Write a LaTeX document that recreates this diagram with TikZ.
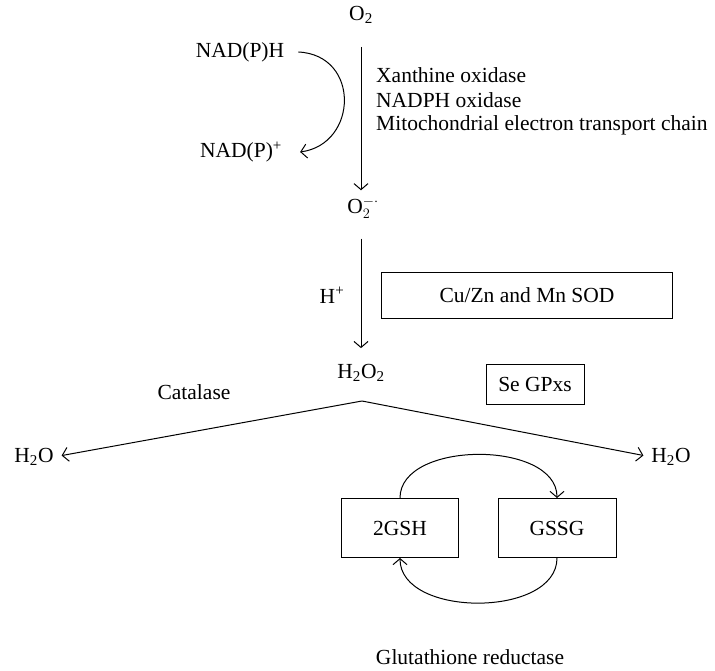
\documentclass[tikz,border=0pt]{standalone}
\usepackage{fontspec}
\setmainfont{Liberation Serif}
\usetikzlibrary{arrows.meta}

\begin{document}
\begin{tikzpicture}[x=1pt,y=-1pt,
    every node/.style={font=\fontsize{21.5}{26}\selectfont},
    lbl/.style={inner sep=0pt},
    enzbox/.style={draw,line width=1pt,inner sep=0pt},
    arr/.style={line width=1pt,-{Straight Barb[length=6pt,width=14pt]}}]
  \useasboundingbox[fill=white] (0,0) rectangle (715,671);

  % Main pathway
  \node[lbl] (o2) at (361,15) {O\textsubscript{2}};
  \node[lbl] (sup) at (363,208) {$\mathrm{O}_2^{-\cdot}$};
  \node[lbl] (hoo) at (361,373) {H\textsubscript{2}O\textsubscript{2}};
  \coordinate (split) at (362,401);
  \node[lbl] (h2oL) at (34,457) {H\textsubscript{2}O};
  \node[lbl] (h2oR) at (671,457) {H\textsubscript{2}O};

  % Cofactor
  \node[lbl] (nadph) at (240,52) {NAD(P)H};
  \node[lbl] (nadp) at (241,152) {NAD(P)\textsuperscript{+}};

  % Enzymes
  \node[lbl,anchor=west] (xo) at (376,75) {Xanthine oxidase};
  \node[lbl,anchor=west] (nox) at (376,100) {NADPH oxidase};
  \node[lbl,anchor=west] (etc) at (376,125) {Mitochondrial electron transport chain};
  \node[lbl] (hplus) at (332,295) {H\textsuperscript{+}};
  \node[enzbox,minimum width=291pt,minimum height=46pt] (sod) at (527,295) {Cu/Zn and Mn SOD};
  \node[lbl] (cat) at (194,392) {Catalase};
  \node[enzbox,minimum width=98pt,minimum height=40pt] (gpx) at (535,384) {Se GPxs};
  \node[lbl] (gr) at (470,657) {Glutathione reductase};

  % Glutathione couple
  \node[enzbox,minimum width=117pt,minimum height=59pt] (gsh) at (400,528) {2GSH};
  \node[enzbox,minimum width=118pt,minimum height=59pt] (gssg) at (557,528) {GSSG};

  % Arrows
  \draw[arr,shorten <=23pt,shorten >=7pt] (o2) -- (o2 |- sup.north);
  \draw[arr,shorten <=20pt,shorten >=16pt] (sup.south -| hoo) -- (hoo);
  \draw[arr] ([xshift=14pt]nadph.east) .. controls +(62,3) and +(58,-8) .. ([xshift=18pt]nadp.east);
  \draw[arr,shorten >=8pt] (split) -- (h2oL.east);
  \draw[arr,shorten >=8pt] (split) -- (h2oR.west);
  \draw[arr] (gsh.north) .. controls +(0,-58) and +(0,-58) .. (gssg.north);
  \draw[arr] (gssg.south) .. controls +(0,60) and +(0,60) .. (gsh.south);
\end{tikzpicture}
\end{document}
